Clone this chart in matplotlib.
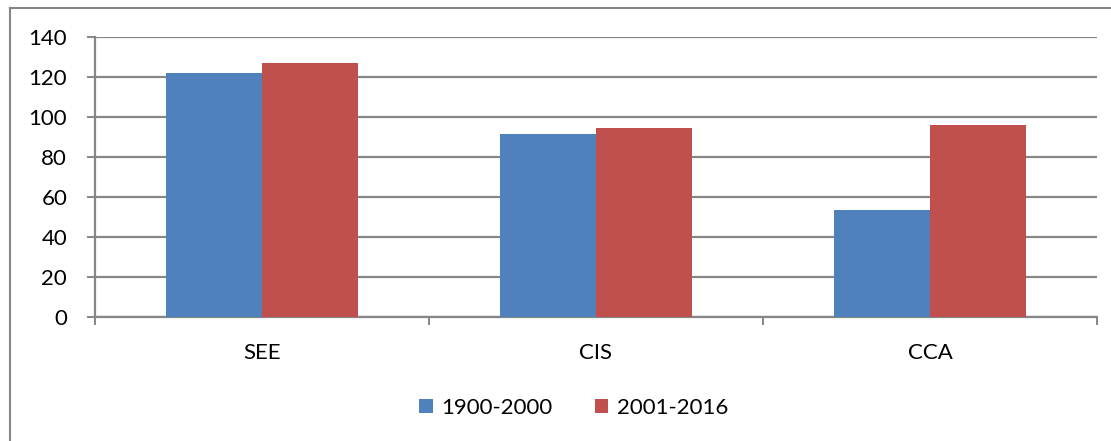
import matplotlib
matplotlib.use('Agg')
import matplotlib.pyplot as plt
import numpy as np
from matplotlib.lines import Line2D
from matplotlib.patches import Patch

# Data
regions = ['SEE', 'CIS', 'CCA']
series_names = ['1900-2000', '2001-2016']
vals_1900_2000 = [122.2, 91.4, 53.7]
vals_2001_2016 = [127.2, 94.4, 95.9]
yticks = [0, 20, 40, 60, 80, 100, 120, 140]

blue = '#4F81BD'
red = '#C0504D'
grid_gray = '#868686'

plt.rcParams['font.family'] = ['Lato', 'DejaVu Sans']

fig = plt.figure(figsize=(11.11, 4.41), dpi=100)
ax = fig.add_axes([95 / 1111, 1 - 317 / 441, (1097 - 95) / 1111, (317 - 37) / 441])

x = np.arange(len(regions))
w = 0.2875
ax.bar(x - w / 2, vals_1900_2000, w, color=blue, zorder=3)
ax.bar(x + w / 2, vals_2001_2016, w, color=red, zorder=3)

ax.set_xlim(-0.5, len(regions) - 0.5)
ax.set_ylim(0, 140)
ax.set_yticks(yticks)
ax.tick_params(axis='y', labelsize=16, length=6, width=1.4, color=grid_gray,
               direction='out', pad=14)
ax.yaxis.grid(True, color=grid_gray, linewidth=1.6, zorder=0)

# category labels at centres, tick marks at boundaries
ax.set_xticks(x)
ax.set_xticklabels(regions)
ax.tick_params(axis='x', which='major', length=0, labelsize=16, pad=19)
ax.set_xticks(np.arange(len(regions) + 1) - 0.5, minor=True)
ax.tick_params(axis='x', which='minor', length=6, width=1.4, color=grid_gray, direction='out')

for s in ['top', 'right']:
    ax.spines[s].set_visible(False)
ax.spines['left'].set_color(grid_gray)
ax.spines['left'].set_linewidth(1.6)
ax.spines['bottom'].set_color(grid_gray)
ax.spines['bottom'].set_linewidth(1.6)
ax.set_axisbelow(True)

handles = [Patch(facecolor=blue, label=series_names[0]),
           Patch(facecolor=red, label=series_names[1])]
fig.legend(handles=handles, loc='center', bbox_to_anchor=(574 / 1111, 1 - 408 / 441),
           ncol=2, frameon=False, fontsize=16, handlelength=0.6, handleheight=0.6,
           handletextpad=0.4, columnspacing=1.9)

# outer chart frame (left and top edges visible in the crop)
fig.add_artist(Line2D([10 / 1111, 10 / 1111], [0, 1 - 8 / 441], color=grid_gray,
                      linewidth=1.5, transform=fig.transFigure))
fig.add_artist(Line2D([10 / 1111, 1], [1 - 8 / 441, 1 - 8 / 441], color=grid_gray,
                      linewidth=1.5, transform=fig.transFigure))

fig.savefig('out.png', dpi=100)
